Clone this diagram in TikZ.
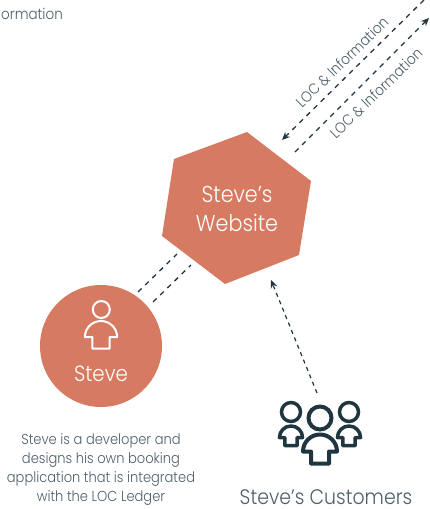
\documentclass[tikz,border=0pt]{standalone}
\usepackage{fontspec}
\setmainfont[FakeStretch=0.9]{Poppins Light}
\usetikzlibrary{arrows.meta}
\definecolor{salmon}{HTML}{D67B62}
\definecolor{ink}{HTML}{1F3540}
\definecolor{txt}{HTML}{4D5F69}
\tikzset{
  flow/.style={draw=ink,line width=1.3pt,dash pattern=on 5pt off 5pt},
  flowtip/.style={flow,-{Stealth[length=8pt,width=7pt]}},
  lbl/.style={text=txt,inner sep=0pt,font=\fontsize{15}{17}\selectfont},
  inv/.style={text=white,inner sep=0pt,align=center},
  pics/figure/.style n args={3}{code={
    \draw[#3,line width=#2,line join=round,scale=#1]
      (-17,17) arc[start angle=180,end angle=360,radius=17] -- (9,17) -- (9,29) -- (-9,29) -- (-9,17) -- cycle;
  }}
}
\begin{document}
\begin{tikzpicture}[x=1pt,y=-1pt]
\useasboundingbox (0,0) rectangle (430,509);
\clip (0,0) rectangle (430,509);
\node[lbl,anchor=base east] (top) at (63,19) {ormation};

\draw[fill=salmon,draw=none] (247,132) coordinate (h1) -- (311,181) coordinate (h2) -- (299,255) coordinate (h3) -- (225,284) coordinate (h4) -- (162,236) coordinate (h5) -- (174,159) coordinate (h6) -- cycle;
\node[inv,font=\fontsize{23}{29}\selectfont] (web) at (237,209) {Steve’s\\Website};

\node[circle,fill=salmon,minimum size=122pt,inner sep=0pt] (steve) at (101,346) {};
\node[circle,draw=white,line width=2pt,minimum size=17pt,inner sep=0pt] (head) at (101.3,309.5) {};
\path (101,321) pic[x=1pt,y=-1pt] {figure={0.95}{2pt}{white}};
\node[inv,font=\fontsize{22}{24}\selectfont] (stevelbl) at (101,374) {Steve};

\coordinate (a1) at (424,0);
\coordinate (a2) at (282,140);
\coordinate (b1) at (295,152);
\coordinate (b2) at (429,18);
\draw[flowtip] (a1) -- (a2);
\draw[flowtip] (b1) -- (b2);
\node[lbl,rotate=44] (l1) at (342,62) {LOC \& Information};
\node[lbl,rotate=44] (l2) at (376,93) {LOC \& Information};

\coordinate (c1) at (138,292);
\coordinate (c2) at (177,254);
\coordinate (d1) at (153,302);
\coordinate (d2) at (191,265);
\draw[flow] (c1) -- (c2);
\draw[flow] (d1) -- (d2);

\coordinate (e1) at (317,393);
\coordinate (e2) at (271,280);
\draw[flowtip,line width=1.2pt,dash pattern=on 4pt off 4pt] (e1) -- (e2);

\node[circle,draw=ink,line width=3.5pt,minimum size=19pt,inner sep=0pt] (hl) at (291,412) {};
\node[circle,draw=ink,line width=3.5pt,minimum size=19pt,inner sep=0pt] (hr) at (349,412) {};
\node[circle,draw=ink,line width=4pt,minimum size=23pt,inner sep=0pt] (hc) at (320,418) {};
\path (291,426) pic[x=1pt,y=-1pt] {figure={0.68}{3.5pt}{ink}};
\path (349,426) pic[x=1pt,y=-1pt] {figure={0.68}{3.5pt}{ink}};
\path (320,434.5) pic[x=1pt,y=-1pt] {figure={1}{4pt}{ink}};

\node[text=txt,inner sep=0pt,font=\fontsize{21}{24}\selectfont] (cust) at (326,497) {Steve’s Customers};
\node[text=txt,inner sep=0pt,align=center,font=\fontsize{14.5}{19}\selectfont] (desc) at (101,469) {Steve is a developer and\\designs his own booking\\application that is integrated\\with the LOC Ledger};
\end{tikzpicture}
\end{document}
